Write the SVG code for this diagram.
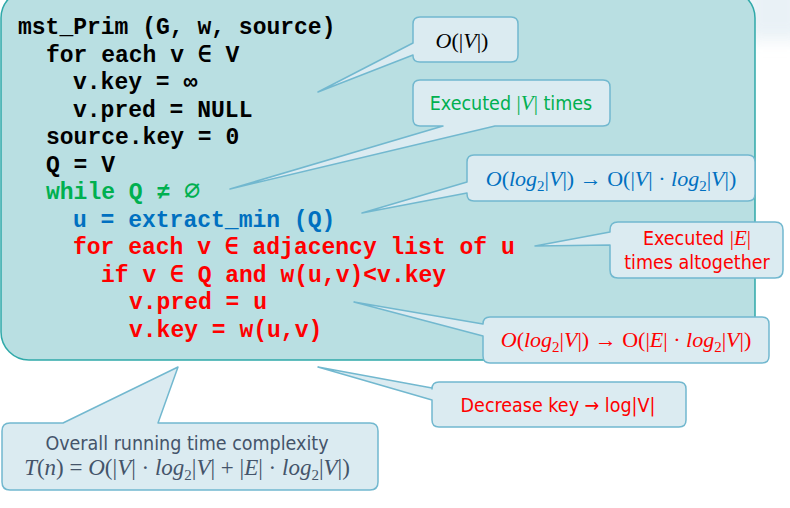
<svg xmlns="http://www.w3.org/2000/svg" width="790" height="508" viewBox="0 0 790 508">
<defs>
<filter id="blur" x="-50%" y="-50%" width="200%" height="200%"><feGaussianBlur stdDeviation="8"/></filter>
</defs>
<style>
.main{fill:#b9dfe2;stroke:#2fa9a9;stroke-width:1.5}
.call{fill:#dbebf1;stroke:#72b8cf;stroke-width:1.5;stroke-linejoin:round}
.code{font-family:"Liberation Mono","DejaVu Sans Mono",monospace;font-weight:bold;font-size:23px}
.blk{fill:#000}
.grn{fill:#00b050}
.blu{fill:#0070c0}
.red{fill:#ff0000}
.sans{font-family:"DejaVu Sans Condensed","DejaVu Sans",sans-serif;font-size:19.5px;text-anchor:middle}
.math{font-family:"Liberation Serif","DejaVu Serif",serif;font-size:22px;text-anchor:middle}
.big{font-size:23px}
.it{font-style:italic}
.sub{font-size:15px}
</style>
<rect width="790" height="508" fill="#ffffff"/>
<rect x="745" y="-20" width="60" height="60" fill="#e4eef4" filter="url(#blur)" opacity="0.8"/>
<g id="code-box">
<rect class="main" x="1" y="-10" width="754" height="370" rx="28"/>
<text class="code blk" x="18" y="34">mst_Prim (G, w, source)</text>
<text class="code blk" x="46" y="61.5">for each v ∈ V</text>
<text class="code blk" x="73" y="89">v.key = ∞</text>
<text class="code blk" x="73" y="116.5">v.pred = NULL</text>
<text class="code blk" x="46" y="144">source.key = 0</text>
<text class="code blk" x="46" y="171.5">Q = V</text>
<text class="code grn" x="46" y="199">while Q ≠ <tspan style="font-weight:normal;font-size:27px">∅</tspan></text>
<text class="code blu" x="73" y="226.5">u = extract_min (Q)</text>
<text class="code red" x="73" y="254">for each v ∈ adjacency list of u</text>
<text class="code red" x="101" y="281.5">if v ∈ Q and w(u,v)&lt;v.key</text>
<text class="code red" x="129" y="309">v.pred = u</text>
<text class="code red" x="129" y="336.5">v.key = w(u,v)</text>
</g>
<g id="connectors"></g>
<g id="callout-init">
<path class="call" d="M420,17 H511 Q518,17 518,24 V55 Q518,62 511,62 H420 Q413,62 413,56 V55 L318,92 L413,43 V24 Q413,17 420,17 Z"/>
<text class="math" x="462" y="48"><tspan class="it">O</tspan>(|<tspan class="it">V</tspan>|)</text>
</g>
<g id="callout-while">
<path class="call" d="M420,80 H603 Q610,80 610,87 V119 Q610,126 603,126 H495 L230,189 L443,126 H420 Q413,126 413,119 V87 Q413,80 420,80 Z"/>
<text class="sans" x="511" y="110" fill="#00b050">Executed <tspan font-family="Liberation Serif,serif" font-size="21">|<tspan class="it">V</tspan>|</tspan> times</text>
</g>
<g id="callout-extract">
<path class="call" d="M474,155 H748 Q755,155 755,162 V194 Q755,201 748,201 H474 Q467,201 467,194 V193 L362,213 L467,182 V162 Q467,155 474,155 Z"/>
<text class="math" x="611" y="186" fill="#0070c0"><tspan class="it">O</tspan>(<tspan class="it">log</tspan><tspan class="sub" dy="5">2</tspan><tspan dy="-5">|</tspan><tspan class="it">V</tspan>|) → O(|<tspan class="it">V</tspan>| · <tspan class="it">log</tspan><tspan class="sub" dy="5">2</tspan><tspan dy="-5">|</tspan><tspan class="it">V</tspan>|)</text>
</g>
<g id="callout-adj">
<path class="call" d="M618,222 H775 Q783,222 783,230 V270 Q783,278 775,278 H618 Q610,278 610,270 V245 L535,246 L610,232 V230 Q610,222 618,222 Z"/>
<text class="sans" x="697" y="245" fill="#ff0000">Executed <tspan font-family="Liberation Serif,serif" font-size="21">|<tspan class="it">E</tspan>|</tspan></text>
<text class="sans" x="697" y="269" fill="#ff0000">times altogether</text>
</g>
<g id="callout-pred">
<path class="call" d="M490,317 H762 Q769,317 769,324 V356 Q769,363 762,363 H490 Q483,363 483,356 V336 L354,302 L483,324 Q483,317 490,317 Z"/>
<text class="math" x="626" y="347" fill="#ff0000"><tspan class="it">O</tspan>(<tspan class="it">log</tspan><tspan class="sub" dy="5">2</tspan><tspan dy="-5">|</tspan><tspan class="it">V</tspan>|) → O(|<tspan class="it">E</tspan>| · <tspan class="it">log</tspan><tspan class="sub" dy="5">2</tspan><tspan dy="-5">|</tspan><tspan class="it">V</tspan>|)</text>
</g>
<g id="callout-decrease">
<path class="call" d="M439,382 H679 Q686,382 686,389 V420 Q686,427 679,427 H439 Q432,427 432,420 V400 L318,367 L432,388 V389 Q432,382 439,382 Z"/>
<text class="sans" x="558" y="412" fill="#ff0000">Decrease key → log|V|</text>
</g>
<g id="callout-overall">
<path class="call" d="M10,423 H63 L178,367 L158,423 H370 Q378,423 378,431 V482 Q378,490 370,490 H10 Q2,490 2,482 V431 Q2,423 10,423 Z"/>
<text class="sans" x="187" y="450" fill="#44546a">Overall running time complexity</text>
<text class="math big" x="187" y="475" fill="#44546a"><tspan class="it">T</tspan>(<tspan class="it">n</tspan>) = <tspan class="it">O</tspan>(|<tspan class="it">V</tspan>| · <tspan class="it">log</tspan><tspan class="sub" dy="5">2</tspan><tspan dy="-5">|</tspan><tspan class="it">V</tspan>| + |<tspan class="it">E</tspan>| · <tspan class="it">log</tspan><tspan class="sub" dy="5">2</tspan><tspan dy="-5">|</tspan><tspan class="it">V</tspan>|)</text>
</g>
</svg>
